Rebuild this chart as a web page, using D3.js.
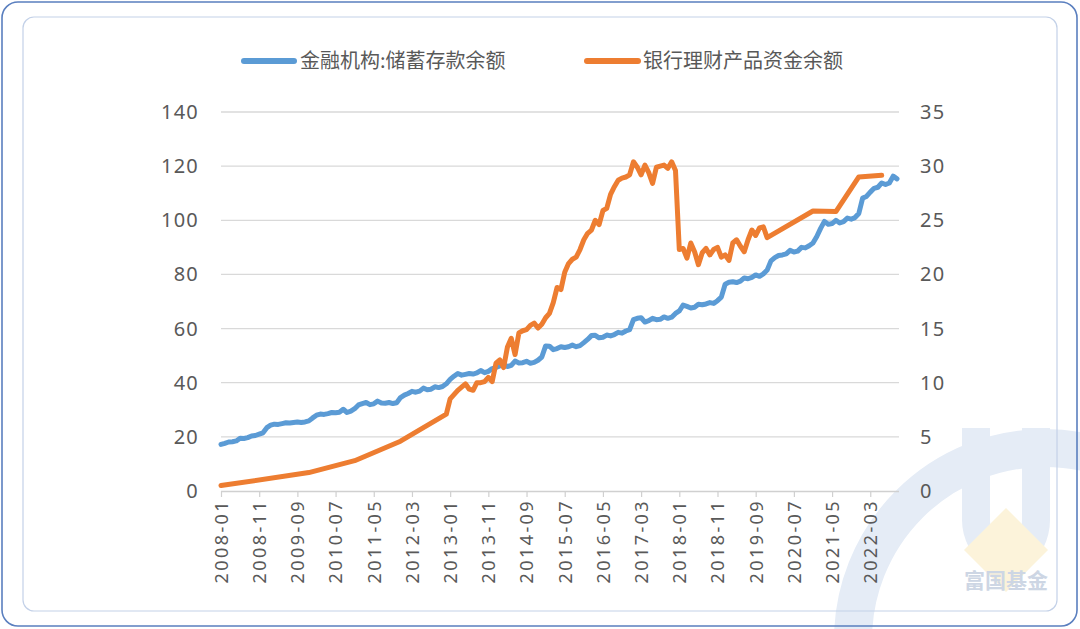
<!DOCTYPE html>
<html><head><meta charset="utf-8">
<script src="https://cdn.jsdelivr.net/npm/d3@7"></script>
<style>body{margin:0;background:#fff}svg{display:block}</style>
</head><body>
<svg id="c" width="1080" height="629"></svg>
<script>
// ---------- data ----------
const startYear = 2008, monthCount = 178; // 2008-01 .. 2022-10
const months = [];
for (let i = 0; i < monthCount; i++) {
  const y = startYear + Math.floor(i / 12), m = (i % 12) + 1;
  months.push(y + "-" + (m < 10 ? "0" + m : m));
}
// 金融机构:储蓄存款余额 (万亿元, left axis)
const depositValues = [
  17.2,17.6,18.1,18.2,18.5,19.5,19.4,19.7,20.3,20.5,21.0,21.5,
  23.4,24.3,24.7,24.6,24.9,25.2,25.1,25.3,25.5,25.3,25.5,25.9,
  27.0,28.0,28.4,28.3,28.6,29.0,28.9,29.1,30.2,29.0,29.5,30.4,
  31.8,32.3,32.7,31.9,32.2,33.2,32.5,32.4,32.7,32.3,32.6,34.5,
  35.4,36.0,36.8,36.5,36.9,38.0,37.4,37.6,38.5,38.2,38.6,39.6,
  41.2,42.4,43.4,42.8,43.1,43.4,43.2,43.6,44.5,43.7,44.2,45.2,
  45.6,46.2,46.6,46.0,46.4,48.0,47.3,47.4,47.9,47.2,47.5,48.3,
  49.5,53.6,53.5,52.2,52.6,53.3,53.0,53.3,53.9,53.3,53.7,54.8,
  56.0,57.4,57.5,56.6,56.8,57.6,57.3,57.8,58.6,58.3,59.1,59.6,
  63.3,63.8,64.0,62.4,62.9,63.8,63.3,63.4,64.3,63.8,64.2,65.6,
  66.5,68.7,68.2,67.6,67.9,69.0,68.8,69.1,69.6,69.3,70.3,71.6,
  76.4,77.1,77.3,77.0,77.5,78.7,78.4,78.9,79.8,79.3,80.2,81.6,
  85.0,86.2,87.0,87.2,87.6,88.9,88.3,88.6,90.0,89.8,90.6,91.6,
  94.0,97.0,99.6,98.5,98.8,100.0,99.0,99.5,100.8,100.4,101.0,102.5,
  108.2,108.8,110.4,111.8,112.2,113.8,113.2,113.8,116.3,115.3
];
// 银行理财产品资金余额 (万亿元, right axis)
const wmpMonths = [
  "2008-01","2009-12","2010-12","2011-12","2012-12",
  "2013-01","2013-02","2013-03","2013-04","2013-05","2013-06","2013-07","2013-08","2013-09","2013-10","2013-11","2013-12",
  "2014-01","2014-02","2014-03","2014-04","2014-05","2014-06","2014-07","2014-08","2014-09","2014-10","2014-11","2014-12",
  "2015-01","2015-02","2015-03","2015-04","2015-05","2015-06","2015-07","2015-08","2015-09","2015-10","2015-11","2015-12",
  "2016-01","2016-02","2016-03","2016-04","2016-05","2016-06","2016-07","2016-08","2016-09","2016-10","2016-11","2016-12",
  "2017-01","2017-02","2017-03","2017-04","2017-05","2017-06","2017-07","2017-08","2017-09","2017-10","2017-11","2017-12",
  "2018-01","2018-02","2018-03","2018-04","2018-05","2018-06","2018-07","2018-08","2018-09","2018-10","2018-11","2018-12",
  "2019-01","2019-02","2019-03","2019-04","2019-05","2019-06","2019-07","2019-08","2019-09","2019-10","2019-11","2019-12",
  "2020-12","2021-06","2021-12","2022-06"
];
const wmpValues = [
  0.5,1.7,2.8,4.6,7.1,
  8.5,8.9,9.3,9.6,9.9,9.4,9.3,10.0,10.0,10.1,10.5,10.1,
  11.8,12.1,11.4,13.3,14.1,12.6,14.6,14.8,14.9,15.3,15.5,15.05,
  15.4,16.0,16.4,17.4,18.8,18.6,20.2,21.0,21.4,21.6,22.3,23.2,
  23.8,24.1,25.0,24.6,25.9,26.1,27.4,28.1,28.7,28.9,29.0,29.2,
  30.4,29.9,29.2,30.1,29.4,28.4,29.9,30.0,30.1,29.8,30.4,29.6,
  22.3,22.4,21.5,22.9,22.1,20.9,22.0,22.4,21.8,22.3,22.5,21.6,
  21.8,21.3,22.9,23.2,22.6,22.1,23.2,24.1,23.6,24.3,24.4,23.4,
  25.86,25.8,29.0,29.15
];
const leftTicks = [0,20,40,60,80,100,120,140];
const rightTicks = [0,5,10,15,20,25,30,35];
const seriesNames = ["金融机构:储蓄存款余额","银行理财产品资金余额"];
const tickEvery = 10;

// ---------- drawing ----------
const svg = d3.select("#c");
const font = "'Noto Sans','Noto Sans CJK SC',sans-serif";
const textCol = "#595959";
const blue = "#5b9bd5", orange = "#ed7d31";

// watermark
const wm = svg.append("g");
wm.append("circle").attr("cx",1045).attr("cy",640).attr("r",192)
  .attr("fill","none").attr("stroke","#e5ecf6").attr("stroke-width",38);
wm.append("path").attr("d","M962,428 L990,428 L990,520 Q990,540 1008,556 L990,574 Q962,548 962,520 Z").attr("fill","#e5ecf6");
wm.append("path").attr("d","M1022,428 L1050,428 L1050,520 Q1050,548 1024,574 L1008,556 Q1022,540 1022,520 Z").attr("fill","#e5ecf6");
wm.append("path").attr("d","M1006,508 L1048,550 L1006,592 L964,550 Z").attr("fill","#fcf3da");
wm.append("text").attr("x",1006).attr("y",588).attr("text-anchor","middle")
  .attr("font-family","'Noto Sans CJK SC',sans-serif").attr("font-weight","bold")
  .attr("font-size",21).attr("fill","#cdd6e4").text("富国基金");

// frames
svg.append("rect").attr("x",2).attr("y",2).attr("width",1075).attr("height",624)
  .attr("rx",16).attr("fill","none").attr("stroke","#5a7fbf").attr("stroke-width",1.6);
svg.append("rect").attr("x",23).attr("y",17).attr("width",1034).attr("height",594)
  .attr("rx",11).attr("fill","none").attr("stroke","#c3d1e8").attr("stroke-width",1.2);

// scales
const x = d3.scalePoint().domain(months).range([221, 897]);
const yL = d3.scaleLinear().domain([0,140]).range([491,112]);
const yR = d3.scaleLinear().domain([0,35]).range([491,112]);

// gridlines
svg.append("g").selectAll("line").data(leftTicks.slice(1)).join("line")
  .attr("x1",221).attr("x2",899).attr("y1",d=>yL(d)).attr("y2",d=>yL(d))
  .attr("stroke","#d9d9d9").attr("stroke-width",1.3);

// left axis labels
svg.append("g").selectAll("text").data(leftTicks).join("text")
  .attr("x",199).attr("y",d=>yL(d)).attr("dy","0.35em").attr("text-anchor","end")
  .attr("font-family",font).attr("font-size",20).attr("letter-spacing",1.2)
  .attr("fill",textCol).text(d=>d);
// right axis labels
svg.append("g").selectAll("text").data(rightTicks).join("text")
  .attr("x",920).attr("y",d=>yR(d)).attr("dy","0.35em").attr("text-anchor","start")
  .attr("font-family",font).attr("font-size",20).attr("letter-spacing",1.2)
  .attr("fill",textCol).text(d=>d);

// bottom axis
const tickVals = months.filter((d,i)=>i % tickEvery === 0);
const xAxis = d3.axisBottom(x).tickValues(tickVals).tickSize(6).tickSizeOuter(0);
const ax = svg.append("g").attr("transform","translate(0,491)").call(xAxis);
ax.select(".domain").attr("stroke","#d0d0d0").attr("stroke-width",1.3).attr("d","M221,0.5H899");
ax.selectAll(".tick line").attr("stroke","#d0d0d0").attr("stroke-width",1.2);
ax.selectAll(".tick text")
  .attr("font-family",font).attr("font-size",18).attr("letter-spacing",2.4)
  .attr("fill",textCol).attr("text-anchor","end")
  .attr("transform","rotate(-90)").attr("x",-8).attr("y",0).attr("dy","0.35em");

// lines
const blueLine = d3.line().x((d,i)=>x(months[i])).y(d=>yL(d));
svg.append("path").datum(depositValues).attr("d",blueLine)
  .attr("fill","none").attr("stroke",blue).attr("stroke-width",5)
  .attr("stroke-linejoin","round").attr("stroke-linecap","round");
const orangeLine = d3.line().x((d,i)=>x(wmpMonths[i])).y(d=>yR(d));
svg.append("path").datum(wmpValues).attr("d",orangeLine)
  .attr("fill","none").attr("stroke",orange).attr("stroke-width",5)
  .attr("stroke-linejoin","round").attr("stroke-linecap","round");

// legend
const leg = [{x1:244,x2:294,tx:300,c:blue,t:seriesNames[0]},{x1:587,x2:638,tx:643,c:orange,t:seriesNames[1]}];
const lg = svg.append("g");
leg.forEach(l=>{
  lg.append("line").attr("x1",l.x1).attr("x2",l.x2).attr("y1",61).attr("y2",61)
    .attr("stroke",l.c).attr("stroke-width",6).attr("stroke-linecap","round");
  lg.append("text").attr("x",l.tx).attr("y",61).attr("dy","0.35em")
    .attr("font-family","'Noto Sans CJK SC',sans-serif").attr("font-size",20)
    .attr("fill",textCol).text(l.t);
});
</script>
</body></html>
